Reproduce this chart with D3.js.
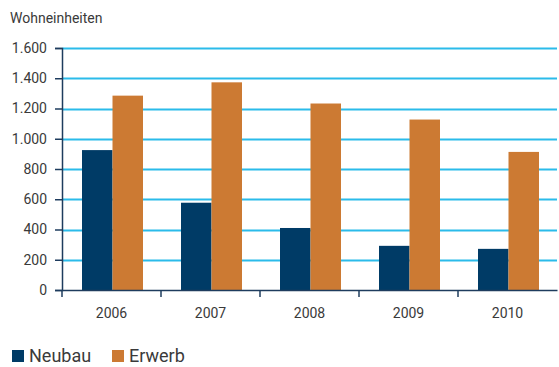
<!DOCTYPE html>
<html>
<head>
<meta charset="utf-8">
<script src="https://cdn.jsdelivr.net/npm/d3@7"></script>
<style>
  html, body { margin: 0; padding: 0; background: #fff; }
  svg text { font-family: Roboto, "Liberation Sans", sans-serif; fill: #3a3a3a; }
</style>
</head>
<body>
<svg id="chart" width="559" height="367"></svg>
<script>
const years = ["2006", "2007", "2008", "2009", "2010"];
const neubau = [925, 577, 410, 292, 272];
const erwerb = [1285, 1373, 1233, 1127, 913];
const yTicks = [0, 200, 400, 600, 800, 1000, 1200, 1400, 1600];
const seriesNames = ["Neubau", "Erwerb"];
const seriesColors = ["#003b66", "#cc7a33"];

const svg = d3.select("#chart");
const plotLeft = 62, plotRight = 557, plotTop = 48, plotBottom = 290;

const x = d3.scaleBand().domain(years).range([plotLeft, plotRight]).paddingInner(0).paddingOuter(0);
const x1 = d3.scaleBand().domain(seriesNames).range([20, 81]);
const y = d3.scaleLinear().domain([0, 1600]).range([plotBottom, plotTop]);

const fmt = v => d3.format(",")(v).replace(/,/g, ".");

// horizontal gridlines
svg.append("g")
  .selectAll("line")
  .data(yTicks.filter(d => d > 0))
  .join("line")
  .attr("x1", plotLeft).attr("x2", plotRight)
  .attr("y1", d => Math.round(y(d)) + 0.5).attr("y2", d => Math.round(y(d)) + 0.5)
  .attr("stroke", "#2bbbea").attr("stroke-width", 2);

// bars
const data = years.map((yr, i) => ({ yr, vals: [neubau[i], erwerb[i]] }));
const groups = svg.append("g").selectAll("g")
  .data(data).join("g")
  .attr("transform", d => `translate(${x(d.yr)},0)`);
groups.selectAll("rect")
  .data(d => d.vals.map((v, k) => ({ v, k })))
  .join("rect")
  .attr("x", d => x1(seriesNames[d.k]))
  .attr("width", x1.bandwidth())
  .attr("y", d => y(d.v))
  .attr("height", d => y(0) - y(d.v))
  .attr("fill", d => seriesColors[d.k]);

// y axis
const yAxis = svg.append("g")
  .attr("transform", `translate(${plotLeft},0)`)
  .call(d3.axisLeft(y).tickValues(yTicks).tickFormat(fmt).tickSize(7).tickPadding(8));
yAxis.select(".domain").attr("stroke", "#1e3c5e").attr("stroke-width", 1.5);
yAxis.selectAll(".tick line").attr("stroke", "#1e3c5e").attr("stroke-width", 1.5);
yAxis.selectAll("text").style("font-size", "14px").attr("fill", "#3a3a3a");

// x axis
const xAxis = svg.append("g")
  .attr("transform", `translate(0,${plotBottom})`)
  .call(d3.axisBottom(x).tickSize(0).tickPadding(18));
xAxis.select(".domain").attr("stroke", "#1e3c5e").attr("stroke-width", 1.5);
xAxis.selectAll("text").style("font-size", "14px").attr("fill", "#3a3a3a");

// category separators
svg.append("g")
  .selectAll("line")
  .data(years.map(d => x(d)))
  .join("line")
  .attr("x1", d => d).attr("x2", d => d)
  .attr("y1", plotBottom).attr("y2", plotBottom + 7)
  .attr("stroke", "#1e3c5e").attr("stroke-width", 1.5);

// axis title
svg.append("text")
  .attr("x", 10).attr("y", 23)
  .style("font-size", "14px")
  .text("Wohneinheiten");

// legend
const legendX = [12, 112];
const legend = svg.append("g").selectAll("g")
  .data(seriesNames).join("g")
  .attr("transform", (d, i) => `translate(${legendX[i]},350)`);
legend.append("rect")
  .attr("width", 12).attr("height", 12)
  .attr("fill", (d, i) => seriesColors[i]);
legend.append("text")
  .attr("x", 17).attr("y", 12)
  .style("font-size", "18px")
  .text(d => d);
</script>
</body>
</html>
